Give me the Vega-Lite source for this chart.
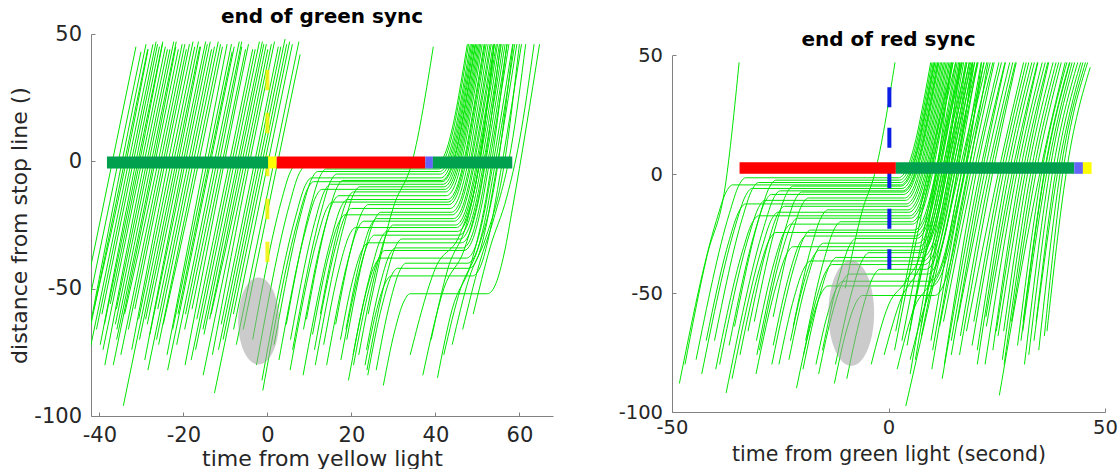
{
"$schema": "https://vega.github.io/schema/vega-lite/v6.json",
"background": "white",
"padding": {"left": 8, "top": 7, "right": 0, "bottom": 0},
"spacing": 65,
"config": {"view": {"stroke": null}, "font": "DejaVu Sans",
 "axis": {"grid": false, "domainColor": "#808080", "tickColor": "#808080", "tickSize": -4, "labelPadding": 13.5, "labelColor": "#262626", "titleColor": "#262626", "titleFontWeight": "normal", "labelFlush": false, "labelOverlap": false, "titlePadding": 6}},
"datasets": {
"L": [
{"i":1,"t":-43.3,"d":-62},{"i":1,"t":-35.5,"d":0},{"i":1,"t":-30.1,"d":43},
{"i":2,"t":-43.4,"d":-75},{"i":2,"t":-34.6,"d":0},{"i":2,"t":-28.9,"d":46},
{"i":3,"t":-41.3,"d":-58},{"i":3,"t":-33.6,"d":0},{"i":3,"t":-28.4,"d":44},
{"i":4,"t":-40.7,"d":-66},{"i":4,"t":-32.4,"d":0},{"i":4,"t":-26.5,"d":47},
{"i":5,"t":-39.8,"d":-72},{"i":5,"t":-31.3,"d":0},{"i":5,"t":-25.7,"d":45},
{"i":6,"t":-37.4,"d":-56},{"i":6,"t":-30.4,"d":0},{"i":6,"t":-25,"d":46},
{"i":7,"t":-38.7,"d":-80},{"i":7,"t":-29.3,"d":0},{"i":7,"t":-23.8,"d":44},
{"i":8,"t":-36.2,"d":-64},{"i":8,"t":-28.2,"d":0},{"i":8,"t":-22.3,"d":47},
{"i":9,"t":-35.9,"d":-70},{"i":9,"t":-27.1,"d":0},{"i":9,"t":-21.8,"d":45},
{"i":10,"t":-34,"d":-60},{"i":10,"t":-26,"d":0},{"i":10,"t":-20.3,"d":46},
{"i":11,"t":-34.3,"d":-96},{"i":11,"t":-22.3,"d":0},{"i":11,"t":-16.4,"d":47},
{"i":12,"t":-33.1,"d":-66},{"i":12,"t":-24.8,"d":0},{"i":12,"t":-19.3,"d":44},
{"i":13,"t":-32.3,"d":-74},{"i":13,"t":-23.6,"d":0},{"i":13,"t":-17.7,"d":47},
{"i":14,"t":-29,"d":-62},{"i":14,"t":-21.2,"d":0},{"i":14,"t":-15.9,"d":45},
{"i":15,"t":-29.2,"d":-78},{"i":15,"t":-20,"d":0},{"i":15,"t":-14.3,"d":46},
{"i":16,"t":-26.1,"d":-58},{"i":16,"t":-18.8,"d":0},{"i":16,"t":-13.3,"d":44},
{"i":17,"t":-26.4,"d":-70},{"i":17,"t":-17.6,"d":0},{"i":17,"t":-11.7,"d":47},
{"i":18,"t":-24.8,"d":-64},{"i":18,"t":-16.3,"d":0},{"i":18,"t":-10.7,"d":45},
{"i":19,"t":-23.9,"d":-76},{"i":19,"t":-15,"d":0},{"i":19,"t":-9.6,"d":46},
{"i":20,"t":-21.3,"d":-60},{"i":20,"t":-13.8,"d":0},{"i":20,"t":-8.4,"d":43},
{"i":21,"t":-21.6,"d":-72},{"i":21,"t":-12.6,"d":0},{"i":21,"t":-6.7,"d":47},
{"i":22,"t":-19.7,"d":-66},{"i":22,"t":-11.4,"d":0},{"i":22,"t":-6.1,"d":45},
{"i":23,"t":-19.6,"d":-80},{"i":23,"t":-10.2,"d":0},{"i":23,"t":-4.5,"d":46},
{"i":24,"t":-16.8,"d":-62},{"i":24,"t":-9,"d":0},{"i":24,"t":-3.5,"d":44},
{"i":25,"t":-17.1,"d":-74},{"i":25,"t":-7.8,"d":0},{"i":25,"t":-1.9,"d":47},
{"i":26,"t":-12.6,"d":-91},{"i":26,"t":-1.2,"d":0},{"i":26,"t":4.6,"d":46},
{"i":27,"t":-15.1,"d":-68},{"i":27,"t":-6.6,"d":0},{"i":27,"t":-0.85,"d":46},
{"i":28,"t":-13.4,"d":-60},{"i":28,"t":-5.4,"d":0},{"i":28,"t":0.1,"d":44},
{"i":29,"t":-13.1,"d":-76},{"i":29,"t":-4.2,"d":0},{"i":29,"t":1.7,"d":47},
{"i":30,"t":-11,"d":-64},{"i":30,"t":-3,"d":0},{"i":30,"t":2.6,"d":45},
{"i":31,"t":-10.55,"d":-70},{"i":31,"t":-1.8,"d":0},{"i":31,"t":4.2,"d":48},
{"i":32,"t":-8.05,"d":-66},{"i":32,"t":0.2,"d":0},{"i":32,"t":5.95,"d":46},
{"i":33,"t":-7.4,"d":-72},{"i":33,"t":1.6,"d":0},{"i":33,"t":7.5,"d":47},
{"i":34,"t":-45.4,"d":-68},{"i":34,"t":-36.9,"d":0},{"i":34,"t":-31.3,"d":45},
{"i":35,"t":-43.25,"d":-82},{"i":35,"t":-33,"d":0},{"i":35,"t":-27.25,"d":46},
{"i":36,"t":-38.8,"d":-64},{"i":36,"t":-30.8,"d":0},{"i":36,"t":-24.9,"d":47},
{"i":37,"t":-35.95,"d":-58},{"i":37,"t":-28.7,"d":0},{"i":37,"t":-23.2,"d":44},
{"i":38,"t":-34.9,"d":-76},{"i":38,"t":-25.4,"d":0},{"i":38,"t":-19.65,"d":46},
{"i":39,"t":-30.65,"d":-62},{"i":39,"t":-22.9,"d":0},{"i":39,"t":-17.3,"d":45},
{"i":40,"t":-28,"d":-68},{"i":40,"t":-19.5,"d":0},{"i":40,"t":-13.6,"d":47},
{"i":41,"t":-28.45,"d":-82},{"i":41,"t":-18.2,"d":0},{"i":41,"t":-12.6,"d":45},
{"i":42,"t":-22.55,"d":-66},{"i":42,"t":-14.3,"d":0},{"i":42,"t":-8.55,"d":46},
{"i":43,"t":-19.5,"d":-60},{"i":43,"t":-12,"d":0},{"i":43,"t":-6.1,"d":47},
{"i":44,"t":-18.15,"d":-78},{"i":44,"t":-8.4,"d":0},{"i":44,"t":-2.9,"d":44},
{"i":45,"t":-13.75,"d":-62},{"i":45,"t":-6,"d":0},{"i":45,"t":-0.25,"d":46},
{"i":46,"t":-11.65,"d":-74},{"i":46,"t":-2.4,"d":0},{"i":46,"t":3.2,"d":45},
{"i":47,"t":-8.1,"d":-60},{"i":47,"t":-0.6,"d":0},{"i":47,"t":5.3,"d":47},
{"i":48,"t":-5.75,"d":-66},{"i":48,"t":2.5,"d":0},{"i":48,"t":7.8,"d":42},
{"i":49,"t":-42.75,"d":-70},{"i":49,"t":-34,"d":0},{"i":49,"t":-28.5,"d":44},
{"i":50,"t":-39.4,"d":-60},{"i":50,"t":-31.9,"d":0},{"i":50,"t":-26.15,"d":46},
{"i":51,"t":-39.15,"d":-74},{"i":51,"t":-29.9,"d":0},{"i":51,"t":-24.3,"d":45},
{"i":52,"t":-35.85,"d":-66},{"i":52,"t":-27.6,"d":0},{"i":52,"t":-21.7,"d":47},
{"i":53,"t":-36.7,"d":-80},{"i":53,"t":-26.7,"d":0},{"i":53,"t":-21.2,"d":44},
{"i":54,"t":-31.55,"d":-58},{"i":54,"t":-24.3,"d":0},{"i":54,"t":-18.55,"d":46},
{"i":55,"t":-30.45,"d":-70},{"i":55,"t":-21.7,"d":0},{"i":55,"t":-16.1,"d":45},
{"i":56,"t":-28.6,"d":-64},{"i":56,"t":-20.6,"d":0},{"i":56,"t":-14.7,"d":47},
{"i":57,"t":-25.9,"d":-72},{"i":57,"t":-16.9,"d":0},{"i":57,"t":-11.15,"d":46},
{"i":58,"t":-23.75,"d":-82},{"i":58,"t":-13.5,"d":0},{"i":58,"t":-7.9,"d":45},
{"i":59,"t":-17.95,"d":-58},{"i":59,"t":-10.7,"d":0},{"i":59,"t":-5.2,"d":44},
{"i":60,"t":-15.35,"d":-66},{"i":60,"t":-7.1,"d":0},{"i":60,"t":-1.2,"d":47},
{"i":61,"t":-15.3,"d":-84},{"i":61,"t":-4.8,"d":0},{"i":61,"t":0.95,"d":46},
{"i":101,"t":-2.6,"d":-80},{"i":101,"t":5.25,"d":-17},{"i":101,"t":7.5,"d":-5},{"i":101,"t":9,"d":-2},{"i":101,"t":40.5,"d":-2},{"i":101,"t":42.5,"d":2},{"i":101,"t":44.5,"d":14},{"i":101,"t":46.5,"d":32},{"i":101,"t":47.9,"d":46},
{"i":102,"t":1.6,"d":-72},{"i":102,"t":8.25,"d":-19},{"i":102,"t":10.5,"d":-7},{"i":102,"t":12,"d":-4},{"i":102,"t":41,"d":-4},{"i":102,"t":43,"d":0},{"i":102,"t":45,"d":12},{"i":102,"t":47,"d":30},{"i":102,"t":48.6,"d":46},
{"i":103,"t":-1.3,"d":-86},{"i":103,"t":6.75,"d":-21.5},{"i":103,"t":9,"d":-9.5},{"i":103,"t":10.5,"d":-6.5},{"i":103,"t":41.3,"d":-6.5},{"i":103,"t":43.3,"d":-2.5},{"i":103,"t":45.3,"d":9.5},{"i":103,"t":47.3,"d":27.5},{"i":103,"t":49.15,"d":46},
{"i":104,"t":5.5,"d":-70},{"i":104,"t":11.25,"d":-24},{"i":104,"t":13.5,"d":-12},{"i":104,"t":15,"d":-9},{"i":104,"t":41.8,"d":-9},{"i":104,"t":43.8,"d":-5},{"i":104,"t":45.8,"d":7},{"i":104,"t":47.8,"d":25},{"i":104,"t":49.9,"d":46},
{"i":105,"t":2.75,"d":-78},{"i":105,"t":9.25,"d":-26},{"i":105,"t":11.5,"d":-14},{"i":105,"t":13,"d":-11},{"i":105,"t":42.2,"d":-11},{"i":105,"t":44.2,"d":-7},{"i":105,"t":46.2,"d":5},{"i":105,"t":48.2,"d":23},{"i":105,"t":50.5,"d":46},
{"i":106,"t":8.6,"d":-66},{"i":106,"t":13.25,"d":-28.5},{"i":106,"t":15.5,"d":-16.5},{"i":106,"t":17,"d":-13.5},{"i":106,"t":42.6,"d":-13.5},{"i":106,"t":44.6,"d":-9.5},{"i":106,"t":46.6,"d":2.5},{"i":106,"t":48.6,"d":20.5},{"i":106,"t":51.15,"d":46},
{"i":107,"t":5.4,"d":-82},{"i":107,"t":11.75,"d":-31},{"i":107,"t":14,"d":-19},{"i":107,"t":15.5,"d":-16},{"i":107,"t":43,"d":-16},{"i":107,"t":45,"d":-12},{"i":107,"t":47,"d":0},{"i":107,"t":49,"d":18},{"i":107,"t":51.8,"d":46},
{"i":108,"t":11.2,"d":-74},{"i":108,"t":16.25,"d":-33.5},{"i":108,"t":18.5,"d":-21.5},{"i":108,"t":20,"d":-18.5},{"i":108,"t":43.5,"d":-18.5},{"i":108,"t":45.5,"d":-14.5},{"i":108,"t":47.5,"d":-2.5},{"i":108,"t":49.5,"d":15.5},{"i":108,"t":52.55,"d":46},
{"i":109,"t":10.75,"d":-68},{"i":109,"t":14.75,"d":-36},{"i":109,"t":17,"d":-24},{"i":109,"t":18.5,"d":-21},{"i":109,"t":44,"d":-21},{"i":109,"t":46,"d":-17},{"i":109,"t":48,"d":-5},{"i":109,"t":50,"d":13},{"i":109,"t":53.3,"d":46},
{"i":110,"t":14.1,"d":-80},{"i":110,"t":19.25,"d":-38.5},{"i":110,"t":21.5,"d":-26.5},{"i":110,"t":23,"d":-23.5},{"i":110,"t":44.5,"d":-23.5},{"i":110,"t":46.5,"d":-19.5},{"i":110,"t":48.5,"d":-7.5},{"i":110,"t":50.5,"d":10.5},{"i":110,"t":54.05,"d":46},
{"i":111,"t":13.4,"d":-72},{"i":111,"t":17.25,"d":-41},{"i":111,"t":19.5,"d":-29},{"i":111,"t":21,"d":-26},{"i":111,"t":45,"d":-26},{"i":111,"t":47,"d":-22},{"i":111,"t":49,"d":-10},{"i":111,"t":51,"d":8},{"i":111,"t":54.8,"d":46},
{"i":112,"t":17.5,"d":-78},{"i":112,"t":21.75,"d":-44},{"i":112,"t":24,"d":-32},{"i":112,"t":25.5,"d":-29},{"i":112,"t":45.6,"d":-29},{"i":112,"t":47.6,"d":-25},{"i":112,"t":49.6,"d":-13},{"i":112,"t":51.6,"d":5},{"i":112,"t":55.7,"d":46},
{"i":113,"t":17.4,"d":-70},{"i":113,"t":20.25,"d":-47},{"i":113,"t":22.5,"d":-35},{"i":113,"t":24,"d":-32},{"i":113,"t":46.2,"d":-32},{"i":113,"t":48.2,"d":-28},{"i":113,"t":50.2,"d":-16},{"i":113,"t":52.2,"d":2},{"i":113,"t":56.6,"d":46},
{"i":114,"t":20.5,"d":-80},{"i":114,"t":24.25,"d":-50},{"i":114,"t":26.5,"d":-38},{"i":114,"t":28,"d":-35},{"i":114,"t":46.8,"d":-35},{"i":114,"t":48.8,"d":-31},{"i":114,"t":50.8,"d":-19},{"i":114,"t":52.8,"d":-1},{"i":114,"t":57.5,"d":46},
{"i":115,"t":20.4,"d":-76},{"i":115,"t":23.25,"d":-53},{"i":115,"t":25.5,"d":-41},{"i":115,"t":27,"d":-38},{"i":115,"t":47.4,"d":-38},{"i":115,"t":49.4,"d":-34},{"i":115,"t":51.4,"d":-22},{"i":115,"t":53.4,"d":-4},{"i":115,"t":58.4,"d":46},
{"i":116,"t":23.9,"d":-84},{"i":116,"t":27.25,"d":-57},{"i":116,"t":29.5,"d":-45},{"i":116,"t":31,"d":-42},{"i":116,"t":48,"d":-42},{"i":116,"t":50,"d":-38},{"i":116,"t":52,"d":-26},{"i":116,"t":54,"d":-8},{"i":116,"t":59.4,"d":46},
{"i":117,"t":23.25,"d":-80},{"i":117,"t":25.75,"d":-60},{"i":117,"t":28,"d":-48},{"i":117,"t":29.5,"d":-45},{"i":117,"t":48.8,"d":-45},{"i":117,"t":50.8,"d":-41},{"i":117,"t":52.8,"d":-29},{"i":117,"t":54.8,"d":-11},{"i":117,"t":60.5,"d":46},
{"i":118,"t":27.6,"d":-88},{"i":118,"t":30.25,"d":-67},{"i":118,"t":32.5,"d":-55},{"i":118,"t":34,"d":-52},{"i":118,"t":52.4,"d":-52},{"i":118,"t":54.4,"d":-48},{"i":118,"t":56.4,"d":-36},{"i":118,"t":58.4,"d":-18},{"i":118,"t":64.8,"d":46},
{"i":119,"t":4.5,"d":-64},{"i":119,"t":10.25,"d":-18},{"i":119,"t":12.5,"d":-6},{"i":119,"t":14,"d":-3},{"i":119,"t":40.8,"d":-3},{"i":119,"t":42.8,"d":1},{"i":119,"t":44.8,"d":13},{"i":119,"t":46.8,"d":31},{"i":119,"t":48.3,"d":46},
{"i":120,"t":9.3,"d":-62},{"i":120,"t":14.25,"d":-22.5},{"i":120,"t":16.5,"d":-10.5},{"i":120,"t":18,"d":-7.5},{"i":120,"t":41.5,"d":-7.5},{"i":120,"t":43.5,"d":-3.5},{"i":120,"t":45.5,"d":8.5},{"i":120,"t":47.5,"d":26.5},{"i":120,"t":49.45,"d":46},
{"i":121,"t":12.6,"d":-60},{"i":121,"t":16.75,"d":-27},{"i":121,"t":19,"d":-15},{"i":121,"t":20.5,"d":-12},{"i":121,"t":42.4,"d":-12},{"i":121,"t":44.4,"d":-8},{"i":121,"t":46.4,"d":4},{"i":121,"t":48.4,"d":22},{"i":121,"t":50.8,"d":46},
{"i":122,"t":16.25,"d":-64},{"i":122,"t":20.25,"d":-32},{"i":122,"t":22.5,"d":-20},{"i":122,"t":24,"d":-17},{"i":122,"t":43.2,"d":-17},{"i":122,"t":45.2,"d":-13},{"i":122,"t":47.2,"d":-1},{"i":122,"t":49.2,"d":17},{"i":122,"t":52.1,"d":46},
{"i":123,"t":18.9,"d":-70},{"i":123,"t":23.25,"d":-35},{"i":123,"t":25.5,"d":-23},{"i":123,"t":27,"d":-20},{"i":123,"t":43.8,"d":-20},{"i":123,"t":45.8,"d":-16},{"i":123,"t":47.8,"d":-4},{"i":123,"t":49.8,"d":14},{"i":123,"t":53,"d":46},
{"i":124,"t":21.75,"d":-76},{"i":124,"t":26.25,"d":-40},{"i":124,"t":28.5,"d":-28},{"i":124,"t":30,"d":-25},{"i":124,"t":44.8,"d":-25},{"i":124,"t":46.8,"d":-21},{"i":124,"t":48.8,"d":-9},{"i":124,"t":50.8,"d":9},{"i":124,"t":54.5,"d":46},
{"i":125,"t":23.7,"d":-82},{"i":125,"t":28.25,"d":-45.5},{"i":125,"t":30.5,"d":-33.5},{"i":125,"t":32,"d":-30.5},{"i":125,"t":45.9,"d":-30.5},{"i":125,"t":47.9,"d":-26.5},{"i":125,"t":49.9,"d":-14.5},{"i":125,"t":51.9,"d":3.5},{"i":125,"t":56.15,"d":46},
{"i":126,"t":-3.5,"d":-70},{"i":126,"t":3.25,"d":-16},{"i":126,"t":5.5,"d":-4},{"i":126,"t":7,"d":-1},{"i":126,"t":40.3,"d":-1},{"i":126,"t":42.3,"d":3},{"i":126,"t":44.3,"d":15},{"i":126,"t":46.3,"d":33},{"i":126,"t":47.6,"d":46},
{"i":127,"t":6,"d":-74},{"i":127,"t":12.75,"d":-20},{"i":127,"t":15,"d":-8},{"i":127,"t":16.5,"d":-5},{"i":127,"t":41.2,"d":-5},{"i":127,"t":43.2,"d":-1},{"i":127,"t":45.2,"d":11},{"i":127,"t":47.2,"d":29},{"i":127,"t":48.9,"d":46},
{"i":128,"t":11.4,"d":-80},{"i":128,"t":18.25,"d":-25},{"i":128,"t":20.5,"d":-13},{"i":128,"t":22,"d":-10},{"i":128,"t":42,"d":-10},{"i":128,"t":44,"d":-6},{"i":128,"t":46,"d":6},{"i":128,"t":48,"d":24},{"i":128,"t":50.2,"d":46},
{"i":129,"t":8.5,"d":-84},{"i":129,"t":15.25,"d":-30},{"i":129,"t":17.5,"d":-18},{"i":129,"t":19,"d":-15},{"i":129,"t":42.9,"d":-15},{"i":129,"t":44.9,"d":-11},{"i":129,"t":46.9,"d":1},{"i":129,"t":48.9,"d":19},{"i":129,"t":51.6,"d":46},
{"i":130,"t":18.7,"d":-66},{"i":130,"t":22.25,"d":-37.5},{"i":130,"t":24.5,"d":-25.5},{"i":130,"t":26,"d":-22.5},{"i":130,"t":44.3,"d":-22.5},{"i":130,"t":46.3,"d":-18.5},{"i":130,"t":48.3,"d":-6.5},{"i":130,"t":50.3,"d":11.5},{"i":130,"t":53.75,"d":46},
{"i":131,"t":19.3,"d":-86},{"i":131,"t":24.75,"d":-42.5},{"i":131,"t":27,"d":-30.5},{"i":131,"t":28.5,"d":-27.5},{"i":131,"t":45.3,"d":-27.5},{"i":131,"t":47.3,"d":-23.5},{"i":131,"t":49.3,"d":-11.5},{"i":131,"t":51.3,"d":6.5},{"i":131,"t":55.25,"d":46},
{"i":132,"t":23.6,"d":-74},{"i":132,"t":26.75,"d":-49},{"i":132,"t":29,"d":-37},{"i":132,"t":30.5,"d":-34},{"i":132,"t":46.5,"d":-34},{"i":132,"t":48.5,"d":-30},{"i":132,"t":50.5,"d":-18},{"i":132,"t":52.5,"d":0},{"i":132,"t":57.1,"d":46},
{"i":133,"t":25.9,"d":-82},{"i":133,"t":29.25,"d":-55},{"i":133,"t":31.5,"d":-43},{"i":133,"t":33,"d":-40},{"i":133,"t":47.7,"d":-40},{"i":133,"t":49.7,"d":-36},{"i":133,"t":51.7,"d":-24},{"i":133,"t":53.7,"d":-6},{"i":133,"t":58.9,"d":46},
{"i":134,"t":-1.1,"d":-90},{"i":134,"t":7.25,"d":-23},{"i":134,"t":9.5,"d":-11},{"i":134,"t":11,"d":-8},{"i":134,"t":41.6,"d":-8},{"i":134,"t":43.6,"d":-4},{"i":134,"t":45.6,"d":8},{"i":134,"t":47.6,"d":26},{"i":134,"t":49.6,"d":46},
{"i":201,"t":34,"d":-76},{"i":201,"t":40,"d":-42},{"i":201,"t":46,"d":-28},{"i":201,"t":50,"d":-5},{"i":201,"t":54,"d":46},
{"i":202,"t":37,"d":-84},{"i":202,"t":42,"d":-50},{"i":202,"t":47,"d":-34},{"i":202,"t":51,"d":-8},{"i":202,"t":55.5,"d":46},
{"i":203,"t":40.5,"d":-85},{"i":203,"t":44,"d":-58},{"i":203,"t":48.5,"d":-40},{"i":203,"t":52,"d":-15},{"i":203,"t":57,"d":46},
{"i":204,"t":39,"d":-70},{"i":204,"t":43,"d":-42},{"i":204,"t":47.5,"d":-24},{"i":204,"t":51,"d":5},{"i":204,"t":54,"d":46},
{"i":205,"t":42,"d":-76},{"i":205,"t":46,"d":-50},{"i":205,"t":50,"d":-35},{"i":205,"t":54,"d":-10},{"i":205,"t":58.5,"d":46},
{"i":206,"t":44,"d":-72},{"i":206,"t":48,"d":-46},{"i":206,"t":52,"d":-30},{"i":206,"t":56,"d":-5},{"i":206,"t":60,"d":46},
{"i":207,"t":46.5,"d":-66},{"i":207,"t":50.5,"d":-40},{"i":207,"t":54,"d":-22},{"i":207,"t":58,"d":5},{"i":207,"t":61.5,"d":46},
{"i":208,"t":49,"d":-60},{"i":208,"t":53,"d":-34},{"i":208,"t":57,"d":-14},{"i":208,"t":60,"d":8},{"i":208,"t":63.5,"d":46},
{"i":301,"t":24,"d":-60},{"i":301,"t":30,"d":-18},{"i":301,"t":34.5,"d":0},{"i":301,"t":39.5,"d":45}
],
"R": [
{"i":1,"t":-44.44,"d":-78},{"i":1,"t":-36.75,"d":-16.5},{"i":1,"t":-34.5,"d":-4.5},{"i":1,"t":-33,"d":-1.5},{"i":1,"t":2.3,"d":-1.5},{"i":1,"t":4.3,"d":2.5},{"i":1,"t":6.3,"d":14.5},{"i":1,"t":8.3,"d":32.5},{"i":1,"t":9.75,"d":47},
{"i":2,"t":-40.19,"d":-70},{"i":2,"t":-33.75,"d":-18.5},{"i":2,"t":-31.5,"d":-6.5},{"i":2,"t":-30,"d":-3.5},{"i":2,"t":2.7,"d":-3.5},{"i":2,"t":4.7,"d":0.5},{"i":2,"t":6.7,"d":12.5},{"i":2,"t":8.7,"d":30.5},{"i":2,"t":10.35,"d":47},
{"i":3,"t":-43.13,"d":-84},{"i":3,"t":-35.25,"d":-21},{"i":3,"t":-33,"d":-9},{"i":3,"t":-31.5,"d":-6},{"i":3,"t":3.1,"d":-6},{"i":3,"t":5.1,"d":-2},{"i":3,"t":7.1,"d":10},{"i":3,"t":9.1,"d":28},{"i":3,"t":11,"d":47},
{"i":4,"t":-36.81,"d":-72},{"i":4,"t":-30.75,"d":-23.5},{"i":4,"t":-28.5,"d":-11.5},{"i":4,"t":-27,"d":-8.5},{"i":4,"t":3.5,"d":-8.5},{"i":4,"t":5.5,"d":-4.5},{"i":4,"t":7.5,"d":7.5},{"i":4,"t":9.5,"d":25.5},{"i":4,"t":11.65,"d":47},
{"i":5,"t":-39,"d":-80},{"i":5,"t":-32.25,"d":-26},{"i":5,"t":-30,"d":-14},{"i":5,"t":-28.5,"d":-11},{"i":5,"t":3.9,"d":-11},{"i":5,"t":5.9,"d":-7},{"i":5,"t":7.9,"d":5},{"i":5,"t":9.9,"d":23},{"i":5,"t":12.3,"d":47},
{"i":6,"t":-32.44,"d":-66},{"i":6,"t":-27.75,"d":-28.5},{"i":6,"t":-25.5,"d":-16.5},{"i":6,"t":-24,"d":-13.5},{"i":6,"t":4.3,"d":-13.5},{"i":6,"t":6.3,"d":-9.5},{"i":6,"t":8.3,"d":2.5},{"i":6,"t":10.3,"d":20.5},{"i":6,"t":12.95,"d":47},
{"i":7,"t":-36.13,"d":-86},{"i":7,"t":-29.25,"d":-31},{"i":7,"t":-27,"d":-19},{"i":7,"t":-25.5,"d":-16},{"i":7,"t":4.7,"d":-16},{"i":7,"t":6.7,"d":-12},{"i":7,"t":8.7,"d":0},{"i":7,"t":10.7,"d":18},{"i":7,"t":13.6,"d":47},
{"i":8,"t":-29.81,"d":-74},{"i":8,"t":-24.75,"d":-33.5},{"i":8,"t":-22.5,"d":-21.5},{"i":8,"t":-21,"d":-18.5},{"i":8,"t":5.1,"d":-18.5},{"i":8,"t":7.1,"d":-14.5},{"i":8,"t":9.1,"d":-2.5},{"i":8,"t":11.1,"d":15.5},{"i":8,"t":14.25,"d":47},
{"i":9,"t":-30.5,"d":-70},{"i":9,"t":-26.25,"d":-36},{"i":9,"t":-24,"d":-24},{"i":9,"t":-22.5,"d":-21},{"i":9,"t":5.5,"d":-21},{"i":9,"t":7.5,"d":-17},{"i":9,"t":9.5,"d":-5},{"i":9,"t":11.5,"d":13},{"i":9,"t":14.9,"d":47},
{"i":10,"t":-26.94,"d":-80},{"i":10,"t":-21.75,"d":-38.5},{"i":10,"t":-19.5,"d":-26.5},{"i":10,"t":-18,"d":-23.5},{"i":10,"t":5.9,"d":-23.5},{"i":10,"t":7.9,"d":-19.5},{"i":10,"t":9.9,"d":-7.5},{"i":10,"t":11.9,"d":10.5},{"i":10,"t":15.55,"d":47},
{"i":11,"t":-26.63,"d":-72},{"i":11,"t":-22.75,"d":-41},{"i":11,"t":-20.5,"d":-29},{"i":11,"t":-19,"d":-26},{"i":11,"t":6.3,"d":-26},{"i":11,"t":8.3,"d":-22},{"i":11,"t":10.3,"d":-10},{"i":11,"t":12.3,"d":8},{"i":11,"t":16.2,"d":47},
{"i":12,"t":-23,"d":-78},{"i":12,"t":-18.75,"d":-44},{"i":12,"t":-16.5,"d":-32},{"i":12,"t":-15,"d":-29},{"i":12,"t":6.8,"d":-29},{"i":12,"t":8.8,"d":-25},{"i":12,"t":10.8,"d":-13},{"i":12,"t":12.8,"d":5},{"i":12,"t":17,"d":47},
{"i":13,"t":-22.63,"d":-70},{"i":13,"t":-19.75,"d":-47},{"i":13,"t":-17.5,"d":-35},{"i":13,"t":-16,"d":-32},{"i":13,"t":7.3,"d":-32},{"i":13,"t":9.3,"d":-28},{"i":13,"t":11.3,"d":-16},{"i":13,"t":13.3,"d":2},{"i":13,"t":17.8,"d":47},
{"i":14,"t":-19.75,"d":-82},{"i":14,"t":-15.75,"d":-50},{"i":14,"t":-13.5,"d":-38},{"i":14,"t":-12,"d":-35},{"i":14,"t":7.8,"d":-35},{"i":14,"t":9.8,"d":-31},{"i":14,"t":11.8,"d":-19},{"i":14,"t":13.8,"d":-1},{"i":14,"t":18.6,"d":47},
{"i":15,"t":-19.63,"d":-76},{"i":15,"t":-16.75,"d":-53},{"i":15,"t":-14.5,"d":-41},{"i":15,"t":-13,"d":-38},{"i":15,"t":8.3,"d":-38},{"i":15,"t":10.3,"d":-34},{"i":15,"t":12.3,"d":-22},{"i":15,"t":14.3,"d":-4},{"i":15,"t":19.4,"d":47},
{"i":16,"t":-16.13,"d":-84},{"i":16,"t":-12.75,"d":-57},{"i":16,"t":-10.5,"d":-45},{"i":16,"t":-9,"d":-42},{"i":16,"t":9,"d":-42},{"i":16,"t":11,"d":-38},{"i":16,"t":13,"d":-26},{"i":16,"t":15,"d":-8},{"i":16,"t":20.5,"d":47},
{"i":17,"t":-16.75,"d":-80},{"i":17,"t":-14.25,"d":-60},{"i":17,"t":-12,"d":-48},{"i":17,"t":-10.5,"d":-45},{"i":17,"t":9.6,"d":-45},{"i":17,"t":11.6,"d":-41},{"i":17,"t":13.6,"d":-29},{"i":17,"t":15.6,"d":-11},{"i":17,"t":21.4,"d":47},
{"i":18,"t":-12.5,"d":-88},{"i":18,"t":-9.75,"d":-66},{"i":18,"t":-7.5,"d":-54},{"i":18,"t":-6,"d":-51},{"i":18,"t":10.6,"d":-51},{"i":18,"t":12.6,"d":-47},{"i":18,"t":14.6,"d":-35},{"i":18,"t":16.6,"d":-17},{"i":18,"t":23,"d":47},
{"i":19,"t":-35.56,"d":-64},{"i":19,"t":-29.75,"d":-17.5},{"i":19,"t":-27.5,"d":-5.5},{"i":19,"t":-26,"d":-2.5},{"i":19,"t":2.5,"d":-2.5},{"i":19,"t":4.5,"d":1.5},{"i":19,"t":6.5,"d":13.5},{"i":19,"t":8.5,"d":31.5},{"i":19,"t":10.05,"d":47},
{"i":20,"t":-31,"d":-62},{"i":20,"t":-25.75,"d":-20},{"i":20,"t":-23.5,"d":-8},{"i":20,"t":-22,"d":-5},{"i":20,"t":2.9,"d":-5},{"i":20,"t":4.9,"d":-1},{"i":20,"t":6.9,"d":11},{"i":20,"t":8.9,"d":29},{"i":20,"t":10.7,"d":47},
{"i":21,"t":-26.63,"d":-60},{"i":21,"t":-22.25,"d":-25},{"i":21,"t":-20,"d":-13},{"i":21,"t":-18.5,"d":-10},{"i":21,"t":3.7,"d":-10},{"i":21,"t":5.7,"d":-6},{"i":21,"t":7.7,"d":6},{"i":21,"t":9.7,"d":24},{"i":21,"t":12,"d":47},
{"i":22,"t":-22,"d":-64},{"i":22,"t":-17.75,"d":-30},{"i":22,"t":-15.5,"d":-18},{"i":22,"t":-14,"d":-15},{"i":22,"t":4.5,"d":-15},{"i":22,"t":6.5,"d":-11},{"i":22,"t":8.5,"d":1},{"i":22,"t":10.5,"d":19},{"i":22,"t":13.3,"d":47},
{"i":23,"t":-19.13,"d":-70},{"i":23,"t":-14.75,"d":-35},{"i":23,"t":-12.5,"d":-23},{"i":23,"t":-11,"d":-20},{"i":23,"t":5.3,"d":-20},{"i":23,"t":7.3,"d":-16},{"i":23,"t":9.3,"d":-4},{"i":23,"t":11.3,"d":14},{"i":23,"t":14.6,"d":47},
{"i":24,"t":-15.25,"d":-74},{"i":24,"t":-11.25,"d":-42},{"i":24,"t":-9,"d":-30},{"i":24,"t":-7.5,"d":-27},{"i":24,"t":6.5,"d":-27},{"i":24,"t":8.5,"d":-23},{"i":24,"t":10.5,"d":-11},{"i":24,"t":12.5,"d":7},{"i":24,"t":16.5,"d":47},
{"i":25,"t":-12.25,"d":-80},{"i":25,"t":-8.25,"d":-48},{"i":25,"t":-6,"d":-36},{"i":25,"t":-4.5,"d":-33},{"i":25,"t":7.5,"d":-33},{"i":25,"t":9.5,"d":-29},{"i":25,"t":11.5,"d":-17},{"i":25,"t":13.5,"d":1},{"i":25,"t":18.1,"d":47},
{"i":26,"t":-9.63,"d":-86},{"i":26,"t":-5.75,"d":-55},{"i":26,"t":-3.5,"d":-43},{"i":26,"t":-2,"d":-40},{"i":26,"t":8.6,"d":-40},{"i":26,"t":10.6,"d":-36},{"i":26,"t":12.6,"d":-24},{"i":26,"t":14.6,"d":-6},{"i":26,"t":19.9,"d":47},
{"i":27,"t":-37.5,"d":-92},{"i":27,"t":-28.75,"d":-22},{"i":27,"t":-26.5,"d":-10},{"i":27,"t":-25,"d":-7},{"i":27,"t":3.3,"d":-7},{"i":27,"t":5.3,"d":-3},{"i":27,"t":7.3,"d":9},{"i":27,"t":9.3,"d":27},{"i":27,"t":11.3,"d":47},
{"i":28,"t":-48.3,"d":-88},{"i":28,"t":-39.75,"d":-19.5},{"i":28,"t":-37.5,"d":-7.5},{"i":28,"t":-36,"d":-4.5},{"i":28,"t":2.8,"d":-4.5},{"i":28,"t":4.8,"d":-0.5},{"i":28,"t":6.8,"d":11.5},{"i":28,"t":8.8,"d":29.5},{"i":28,"t":10.55,"d":47},
{"i":29,"t":-30.4,"d":-76},{"i":29,"t":-23.75,"d":-22.5},{"i":29,"t":-21.5,"d":-10.5},{"i":29,"t":-20,"d":-7.5},{"i":29,"t":3.4,"d":-7.5},{"i":29,"t":5.4,"d":-3.5},{"i":29,"t":7.4,"d":8.5},{"i":29,"t":9.4,"d":26.5},{"i":29,"t":11.45,"d":47},
{"i":30,"t":-42.1,"d":-70},{"i":30,"t":-36.75,"d":-27.5},{"i":30,"t":-34.5,"d":-15.5},{"i":30,"t":-33,"d":-12.5},{"i":30,"t":4.1,"d":-12.5},{"i":30,"t":6.1,"d":-8.5},{"i":30,"t":8.1,"d":3.5},{"i":30,"t":10.1,"d":21.5},{"i":30,"t":12.65,"d":47},
{"i":31,"t":-39.9,"d":-82},{"i":31,"t":-33.75,"d":-32.5},{"i":31,"t":-31.5,"d":-20.5},{"i":31,"t":-30,"d":-17.5},{"i":31,"t":4.9,"d":-17.5},{"i":31,"t":6.9,"d":-13.5},{"i":31,"t":8.9,"d":-1.5},{"i":31,"t":10.9,"d":16.5},{"i":31,"t":13.95,"d":47},
{"i":32,"t":-34.3,"d":-76},{"i":32,"t":-29.75,"d":-39.5},{"i":32,"t":-27.5,"d":-27.5},{"i":32,"t":-26,"d":-24.5},{"i":32,"t":6.1,"d":-24.5},{"i":32,"t":8.1,"d":-20.5},{"i":32,"t":10.1,"d":-8.5},{"i":32,"t":12.1,"d":9.5},{"i":32,"t":15.85,"d":47},
{"i":33,"t":-30.6,"d":-84},{"i":33,"t":-25.75,"d":-45.5},{"i":33,"t":-23.5,"d":-33.5},{"i":33,"t":-22,"d":-30.5},{"i":33,"t":7,"d":-30.5},{"i":33,"t":9,"d":-26.5},{"i":33,"t":11,"d":-14.5},{"i":33,"t":13,"d":3.5},{"i":33,"t":17.35,"d":47},
{"i":34,"t":-25.3,"d":-80},{"i":34,"t":-21.75,"d":-51.5},{"i":34,"t":-19.5,"d":-39.5},{"i":34,"t":-18,"d":-36.5},{"i":34,"t":8,"d":-36.5},{"i":34,"t":10,"d":-32.5},{"i":34,"t":12,"d":-20.5},{"i":34,"t":14,"d":-2.5},{"i":34,"t":18.95,"d":47},
{"i":35,"t":-21.25,"d":-90},{"i":35,"t":-17.75,"d":-62},{"i":35,"t":-15.5,"d":-50},{"i":35,"t":-14,"d":-47},{"i":35,"t":10,"d":-47},{"i":35,"t":12,"d":-43},{"i":35,"t":14,"d":-31},{"i":35,"t":16,"d":-13},{"i":35,"t":22,"d":47},
{"i":101,"t":1.67,"d":-66},{"i":101,"t":9,"d":0},{"i":101,"t":14.9,"d":47},
{"i":102,"t":4,"d":-97.5},{"i":102,"t":16.2,"d":0},{"i":102,"t":22.1,"d":47},
{"i":103,"t":4.3,"d":-72},{"i":103,"t":11.5,"d":0},{"i":103,"t":17,"d":47},
{"i":104,"t":5.3,"d":-60},{"i":104,"t":12.8,"d":0},{"i":104,"t":18.7,"d":47},
{"i":105,"t":6.2,"d":-78},{"i":105,"t":14,"d":0},{"i":105,"t":19.9,"d":47},
{"i":106,"t":7.6,"d":-68},{"i":106,"t":15.2,"d":0},{"i":106,"t":20.7,"d":47},
{"i":107,"t":10.2,"d":-74},{"i":107,"t":17.6,"d":0},{"i":107,"t":23.5,"d":47},
{"i":108,"t":11.8,"d":-64},{"i":108,"t":18.9,"d":0},{"i":108,"t":24.4,"d":47},
{"i":109,"t":12.9,"d":-80},{"i":109,"t":20.2,"d":0},{"i":109,"t":26.1,"d":47},
{"i":110,"t":14.5,"d":-70},{"i":110,"t":21.5,"d":0},{"i":110,"t":27,"d":47},
{"i":111,"t":15.9,"d":-62},{"i":111,"t":22.8,"d":0},{"i":111,"t":28.7,"d":47},
{"i":112,"t":16.4,"d":-76},{"i":112,"t":24,"d":0},{"i":112,"t":29.5,"d":47},
{"i":113,"t":18,"d":-66},{"i":113,"t":25.3,"d":0},{"i":113,"t":31.2,"d":47},
{"i":114,"t":25.6,"d":-93},{"i":114,"t":34.9,"d":0},{"i":114,"t":40.8,"d":47},
{"i":115,"t":19.3,"d":-72},{"i":115,"t":26.5,"d":0},{"i":115,"t":32.4,"d":47},
{"i":116,"t":20.5,"d":-80},{"i":116,"t":27.8,"d":0},{"i":116,"t":33.7,"d":47},
{"i":117,"t":22.6,"d":-64},{"i":117,"t":29,"d":0},{"i":117,"t":34.5,"d":47},
{"i":118,"t":24.1,"d":-74},{"i":118,"t":30.3,"d":0},{"i":118,"t":36.2,"d":47},
{"i":119,"t":25.3,"d":-68},{"i":119,"t":31.5,"d":0},{"i":119,"t":37,"d":47},
{"i":120,"t":26.3,"d":-78},{"i":120,"t":32.8,"d":0},{"i":120,"t":38.7,"d":47},
{"i":121,"t":28.4,"d":-62},{"i":121,"t":34,"d":0},{"i":121,"t":39.9,"d":47},
{"i":122,"t":29.8,"d":-72},{"i":122,"t":35.3,"d":0},{"i":122,"t":41.2,"d":47},
{"i":123,"t":31,"d":-66},{"i":123,"t":36.5,"d":0},{"i":123,"t":42.4,"d":47},
{"i":124,"t":32.4,"d":-76},{"i":124,"t":37.8,"d":0},{"i":124,"t":43.7,"d":47},
{"i":125,"t":33.6,"d":-70},{"i":125,"t":39,"d":0},{"i":125,"t":44.9,"d":47},
{"i":126,"t":36,"d":-68},{"i":126,"t":40.2,"d":0},{"i":126,"t":46,"d":47},
{"i":127,"t":34.1,"d":-62},{"i":127,"t":38.5,"d":0},{"i":127,"t":44.4,"d":47},
{"i":128,"t":1.4,"d":-74},{"i":128,"t":9.6,"d":0},{"i":128,"t":15.5,"d":47},
{"i":129,"t":4.9,"d":-66},{"i":129,"t":12.2,"d":0},{"i":129,"t":18.1,"d":47},
{"i":130,"t":5,"d":-84},{"i":130,"t":13.4,"d":0},{"i":130,"t":19.3,"d":47},
{"i":131,"t":9.8,"d":-70},{"i":131,"t":16.8,"d":0},{"i":131,"t":22.7,"d":47},
{"i":132,"t":12.7,"d":-62},{"i":132,"t":19.6,"d":0},{"i":132,"t":25.5,"d":47},
{"i":133,"t":16.6,"d":-68},{"i":133,"t":23.4,"d":0},{"i":133,"t":29.3,"d":47},
{"i":134,"t":20.5,"d":-74},{"i":134,"t":27.2,"d":0},{"i":134,"t":33.1,"d":47},
{"i":135,"t":24.9,"d":-66},{"i":135,"t":30.9,"d":0},{"i":135,"t":36.8,"d":47},
{"i":136,"t":26.7,"d":-80},{"i":136,"t":33.4,"d":0},{"i":136,"t":39.3,"d":47},
{"i":137,"t":30.6,"d":-70},{"i":137,"t":36,"d":0},{"i":137,"t":41.9,"d":47},
{"i":138,"t":34.7,"d":-74},{"i":138,"t":39.6,"d":0},{"i":138,"t":45.5,"d":47},
{"i":139,"t":12.4,"d":-86},{"i":139,"t":21,"d":0},{"i":139,"t":26.9,"d":47},
{"i":140,"t":22.5,"d":-60},{"i":140,"t":28.5,"d":0},{"i":140,"t":34.4,"d":47},
{"i":141,"t":3.1,"d":-70},{"i":141,"t":10.9,"d":0},{"i":141,"t":16.8,"d":47},
{"i":142,"t":7.5,"d":-64},{"i":142,"t":14.6,"d":0},{"i":142,"t":20.5,"d":47},
{"i":143,"t":10,"d":-82},{"i":143,"t":18.2,"d":0},{"i":143,"t":24.1,"d":47},
{"i":144,"t":14.5,"d":-76},{"i":144,"t":22.1,"d":0},{"i":144,"t":28,"d":47},
{"i":145,"t":19.7,"d":-62},{"i":145,"t":25.9,"d":0},{"i":145,"t":31.8,"d":47},
{"i":146,"t":22.3,"d":-80},{"i":146,"t":29.6,"d":0},{"i":146,"t":35.5,"d":47},
{"i":147,"t":26.6,"d":-66},{"i":147,"t":32.1,"d":0},{"i":147,"t":38,"d":47},
{"i":148,"t":31.1,"d":-62},{"i":148,"t":35.9,"d":0},{"i":148,"t":41.8,"d":47},
{"i":149,"t":31.4,"d":-80},{"i":149,"t":37.1,"d":0},{"i":149,"t":43,"d":47},
{"i":150,"t":36.6,"d":-66},{"i":150,"t":41,"d":0},{"i":150,"t":46.6,"d":45},
{"i":201,"t":-4,"d":-80},{"i":201,"t":0,"d":-55},{"i":201,"t":4,"d":-45},{"i":201,"t":8,"d":-30},{"i":201,"t":11,"d":0},{"i":201,"t":14.5,"d":47},
{"i":202,"t":-1,"d":-76},{"i":202,"t":3,"d":-52},{"i":202,"t":7,"d":-40},{"i":202,"t":10.5,"d":-22},{"i":202,"t":13.5,"d":5},{"i":202,"t":16.5,"d":47},
{"i":203,"t":2,"d":-82},{"i":203,"t":6,"d":-56},{"i":203,"t":10,"d":-44},{"i":203,"t":13,"d":-25},{"i":203,"t":16,"d":3},{"i":203,"t":19.5,"d":47},
{"i":204,"t":5,"d":-78},{"i":204,"t":9,"d":-52},{"i":204,"t":12.5,"d":-38},{"i":204,"t":15.5,"d":-16},{"i":204,"t":18.5,"d":10},{"i":204,"t":21.5,"d":47},
{"i":301,"t":-47,"d":-80},{"i":301,"t":-42,"d":-35},{"i":301,"t":-37.7,"d":-5},{"i":301,"t":-34.5,"d":47},
{"i":302,"t":-10,"d":-48},{"i":302,"t":-6,"d":-15},{"i":302,"t":-3.2,"d":0},{"i":302,"t":1.5,"d":47}
]
},
"hconcat": [
{
 "width": 462, "height": 382,
 "title": {"text": "end of green sync", "fontSize": 20, "fontWeight": "bold", "color": "black", "frame": "group", "anchor": "middle", "baseline": "alphabetic", "offset": 0, "dy": 20.3},
 "layer": [
  {"data": {"name": "L"},
   "mark": {"type": "line", "interpolate": "monotone", "clip": true, "stroke": "#00e600", "strokeWidth": 1},
   "encoding": {
    "x": {"field": "t", "type": "quantitative", "scale": {"domain": [-42, 68], "nice": false, "zero": false}, "axis": {"values": [-40, -20, 0, 20, 40, 60], "labelExpr": "'' + datum.value", "title": "time from yellow light", "labelFontSize": 21, "titleFontSize": 22, "labelPadding": 12, "titlePadding": 3}},
    "y": {"field": "d", "type": "quantitative", "scale": {"domain": [-100, 50], "nice": false, "zero": false}, "axis": {"values": [-100, -50, 0, 50], "labelExpr": "'' + datum.value", "title": "distance from stop line ()", "labelFontSize": 21, "titleFontSize": 22, "titlePadding": 2}},
    "detail": {"field": "i", "type": "nominal"}}},
  {"data": {"values": [{"t": -2.1, "d": -62.7}]},
   "mark": {"type": "point", "shape": "M-0.47,0A0.47,1,0,1,0,0.47,0A0.47,1,0,1,0,-0.47,0Z", "size": 7569, "filled": true, "color": "#a0a0a0", "opacity": 0.55, "strokeWidth": 0},
   "encoding": {"x": {"field": "t", "type": "quantitative"}, "y": {"field": "d", "type": "quantitative"}}},
  {"data": {"values": [{"t": 0, "d": 36, "d2": -40}]},
   "mark": {"type": "rule", "strokeDash": [20.5, 22.5], "strokeWidth": 4, "color": "#f2f200", "opacity": 0.85},
   "encoding": {"x": {"field": "t", "type": "quantitative"}, "y": {"field": "d", "type": "quantitative"}, "y2": {"field": "d2"}}},
  {"data": {"values": [
    {"t": -38.2, "t2": 0.2, "d": -0.45, "p": "green"},
    {"t": 0.2, "t2": 2.2, "d": -0.45, "p": "yellow"},
    {"t": 2.2, "t2": 37.6, "d": -0.45, "p": "red"},
    {"t": 37.6, "t2": 39.4, "d": -0.45, "p": "blue"},
    {"t": 39.4, "t2": 58.3, "d": -0.45, "p": "green"}]},
   "mark": {"type": "rule", "strokeWidth": 12, "strokeCap": "butt"},
   "encoding": {"x": {"field": "t", "type": "quantitative"}, "x2": {"field": "t2"}, "y": {"field": "d", "type": "quantitative"},
    "color": {"field": "p", "type": "nominal", "scale": {"domain": ["green", "yellow", "red", "blue"], "range": ["#00a04e", "#ffff00", "#ff0000", "#6464f8"]}, "legend": null}}}
 ]
},
{
 "width": 433, "height": 378,
 "title": {"text": "end of red sync", "fontSize": 20, "fontWeight": "bold", "color": "black", "frame": "group", "anchor": "middle", "baseline": "alphabetic", "offset": 0, "dy": 31.8},
 "layer": [
  {"data": {"name": "R"},
   "mark": {"type": "line", "interpolate": "monotone", "clip": true, "stroke": "#00e600", "strokeWidth": 1},
   "encoding": {
    "x": {"field": "t", "type": "quantitative", "scale": {"domain": [-50, 50], "nice": false, "zero": false}, "axis": {"values": [-50, 0, 50], "labelExpr": "'' + datum.value", "title": "time from green light (second)", "labelFontSize": 19.5, "titleFontSize": 20.5, "labelPadding": 10.5, "titlePadding": 7.5}},
    "y": {"field": "d", "type": "quantitative", "scale": {"domain": [-100, 50], "nice": false, "zero": false, "range": [378, 21.3]}, "axis": {"values": [-100, -50, 0, 50], "labelExpr": "'' + datum.value", "title": null, "labelFontSize": 19.5}},
    "detail": {"field": "i", "type": "nominal"}}},
  {"data": {"values": [{"t": -8.6, "d": -58.4}]},
   "mark": {"type": "point", "shape": "M-0.432,0A0.432,1,0,1,0,0.432,0A0.432,1,0,1,0,-0.432,0Z", "size": 11172, "filled": true, "color": "#a0a0a0", "opacity": 0.55, "strokeWidth": 0},
   "encoding": {"x": {"field": "t", "type": "quantitative"}, "y": {"field": "d", "type": "quantitative"}}},
  {"data": {"values": [{"t": 0.2, "d": 36.6, "d2": -40.2}]},
   "mark": {"type": "rule", "strokeDash": [20, 20.5], "strokeWidth": 4, "color": "#0a1ee6"},
   "encoding": {"x": {"field": "t", "type": "quantitative"}, "y": {"field": "d", "type": "quantitative"}, "y2": {"field": "d2"}}},
  {"data": {"values": [
    {"t": -34.4, "t2": 1.7, "d": 2.6, "p": "red"},
    {"t": 1.7, "t2": 42.9, "d": 2.6, "p": "green"},
    {"t": 42.9, "t2": 44.9, "d": 2.6, "p": "blue"},
    {"t": 44.9, "t2": 46.9, "d": 2.6, "p": "yellow"}]},
   "mark": {"type": "rule", "strokeWidth": 11.6, "strokeCap": "butt"},
   "encoding": {"x": {"field": "t", "type": "quantitative"}, "x2": {"field": "t2"}, "y": {"field": "d", "type": "quantitative"},
    "color": {"field": "p", "type": "nominal", "scale": {"domain": ["green", "yellow", "red", "blue"], "range": ["#00a04e", "#ffff00", "#ff0000", "#6464f8"]}, "legend": null}}}
 ]
}
]
}
